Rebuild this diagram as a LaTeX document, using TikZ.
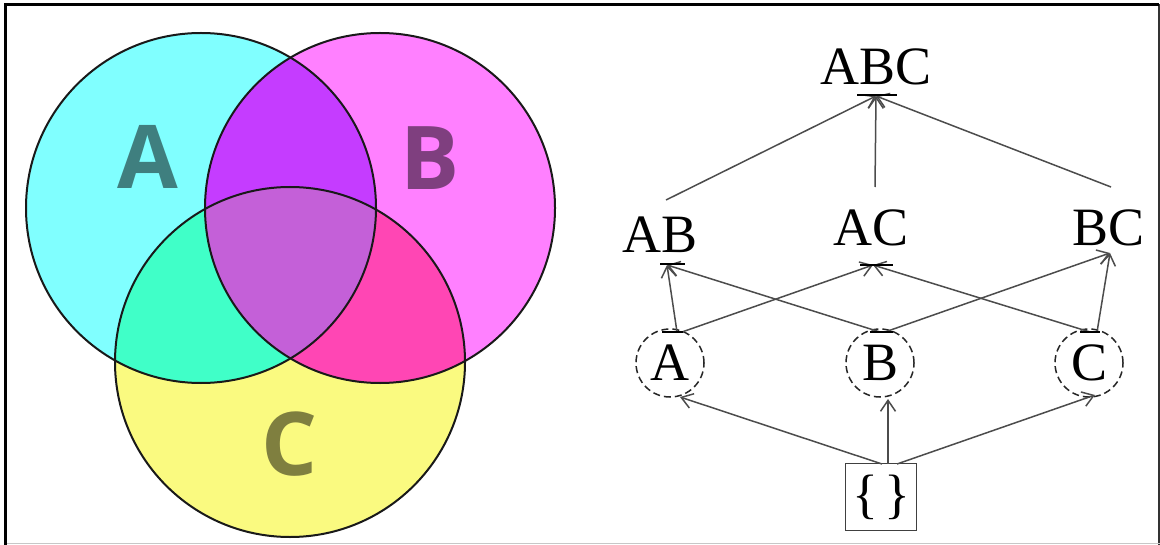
\documentclass[tikz,border=0pt]{standalone}
\usepackage{fontspec}
\setmainfont{Liberation Serif}
\newfontfamily\vennfont{Open Sans}
\usetikzlibrary{calc,arrows.meta}

% region colours of the Venn diagram
\definecolor{onlyA}{HTML}{80FFFF}
\definecolor{onlyB}{HTML}{FF80FF}
\definecolor{onlyC}{HTML}{FAFA80}
\definecolor{capAB}{HTML}{C53CFF}
\definecolor{capAC}{HTML}{40FFC8}
\definecolor{capBC}{HTML}{FF46B4}
\definecolor{capABC}{HTML}{C460D8}
\definecolor{lblA}{HTML}{3F7F7F}
\definecolor{lblB}{HTML}{7F3F7F}
\definecolor{lblC}{HTML}{7F7F3F}

\newcommand\setAshape{(201,208) circle[radius=87.5pt]}
\newcommand\setBshape{(380,208) circle[radius=87.5pt]}
\newcommand\setCshape{(290,362) circle[radius=87.5pt]}

\begin{document}
\begin{tikzpicture}[x=0.5pt,y=-0.5pt,
  vennlbl/.style={font=\vennfont\bfseries\fontsize{44}{44}\selectfont, inner sep=0pt},
  setlbl/.style={font=\fontsize{27}{27}\selectfont, inner sep=0pt, anchor=base},
  single/.style={circle, draw=black!85, line width=0.75pt, dash pattern=on 3.5pt off 2pt,
                 minimum size=34pt, inner sep=0pt, font=\fontsize{27}{27}\selectfont},
  emptybox/.style={draw=black!75, line width=0.8pt, minimum width=35.5pt,
                   minimum height=33.5pt, inner sep=0pt, font=\fontsize{27}{27}\selectfont},
  link/.style={draw=black!70, line width=0.75pt, -{Straight Barb[length=5.5pt,width=7.5pt]}},
  tick/.style={draw=black, line width=1pt}]

\useasboundingbox (0,0) rectangle (1160,545);
\fill[white] (0,0) rectangle (1160,545);

% frame
\draw[black!80, line width=1pt] (1158.5,4.5) -- (1158.5,545);
\draw[black!22, line width=0.8pt] (5,543.5) -- (1160,543.5);
\draw[black, line width=1.5pt] (5.5,545) -- (5.5,4.5) -- (1159,4.5);

% ---- Venn diagram ----
\fill[onlyA] \setAshape;
\fill[onlyB] \setBshape;
\fill[onlyC] \setCshape;
\begin{scope}
  \clip \setAshape;
  \fill[capAB] \setBshape;
  \fill[capAC] \setCshape;
\end{scope}
\begin{scope}
  \clip \setBshape;
  \fill[capBC] \setCshape;
\end{scope}
\begin{scope}
  \clip \setAshape;
  \clip \setBshape;
  \fill[capABC] \setCshape;
\end{scope}
\draw[black!90, line width=1pt] \setAshape;
\draw[black!90, line width=1pt] \setBshape;
\draw[black!90, line width=1pt] \setCshape;

\node[vennlbl, text=lblA] (vA) at (148,157) {A};
\node[vennlbl, text=lblB] (vB) at (430,158) {B};
\node[vennlbl, text=lblC] (vC) at (290,444) {C};

% ---- subset lattice ----
\node[setlbl] (ABC) at (876,85) {ABC};
\node[setlbl] (AB) at (660,252) {AB};
\node[setlbl] (AC) at (871,245) {AC};
\node[setlbl] (BC) at (1108,245) {BC};
\node[single] (A) at (670,363) {A};
\node[single] (B) at (880,363) {B};
\node[single] (C) at (1089,363) {C};
\node[emptybox] (E) at (881,497) {\{\hspace{3pt}\}};

% pair -> triple
\draw[link] ($(AB.base)+(6,-52)$) -- ($(ABC.base)+(0,11)$);
\draw[link] ($(AC.base)+(4,-58)$) -- ($(ABC.base)+(0,11)$);
\draw[link] ($(BC.base)+(3,-58)$) -- ($(ABC.base)+(0,11)$);

% single -> pair
\draw[link] ($(A.center)+(7,-31)$) -- ($(AB.base)+(7,13)$);
\draw[link] ($(B.center)+(0,-31)$) -- ($(AB.base)+(7,13)$);
\draw[link] ($(A.center)+(12,-31)$) -- ($(AC.base)+(2,20)$);
\draw[link] ($(C.center)+(1,-31)$) -- ($(AC.base)+(2,20)$);
\draw[link] ($(B.center)+(5,-31)$) -- ($(BC.base)+(2,8)$);
\draw[link] ($(C.center)+(8,-31)$) -- ($(BC.base)+(2,8)$);

% empty set -> single
\draw[link] ($(E.center)+(1,-33)$) -- ($(A.center)+(10,34)$);
\draw[link] ($(E.center)+(7,-33)$) -- ($(B.center)+(8,36)$);
\draw[link] ($(E.center)+(16,-33)$) -- ($(C.center)+(6,32)$);

% short bars where the lines meet the labels
\draw[tick] ($(ABC.base)+(-19,10)$) -- ++(40,0);
\draw[tick] ($(AB.base)+(0,12)$) -- ++(25,0);
\draw[tick] ($(AC.base)+(-11,20)$) -- ++(33,0);
\draw[tick] ($(A.center)+(-8,-31)$) -- ++(21,0);
\draw[tick] ($(B.center)+(-10,-31)$) -- ++(23,0);
\draw[tick] ($(C.center)+(-9,-31)$) -- ++(20,0);
\end{tikzpicture}
\end{document}
